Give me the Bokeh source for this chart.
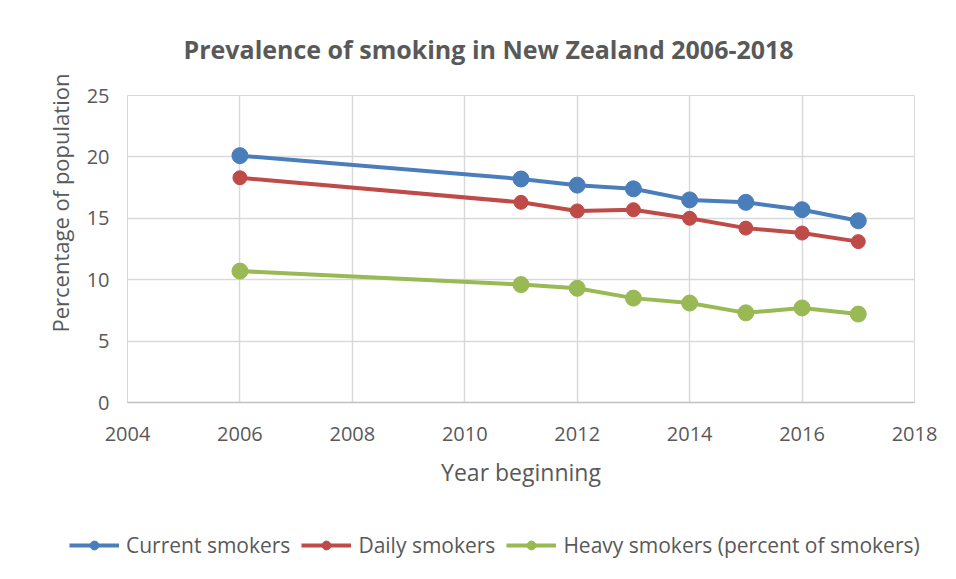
from bokeh.plotting import figure
from bokeh.layouts import column, row
from bokeh.models import Range1d, FixedTicker, Legend, LegendItem, Title
from bokeh.embed import file_html
from bokeh.resources import INLINE

years = [2006, 2011, 2012, 2013, 2014, 2015, 2016, 2017]
current = [20.1, 18.2, 17.7, 17.4, 16.5, 16.3, 15.7, 14.8]
daily = [18.3, 16.3, 15.6, 15.7, 15.0, 14.2, 13.8, 13.1]
heavy = [10.7, 9.6, 9.3, 8.5, 8.1, 7.3, 7.7, 7.2]

series_names = ["Current smokers", "Daily smokers", "Heavy smokers (percent of smokers)"]
series_colors = ["#4A7EBB", "#BE4B48", "#98B954"]
x_ticks = [2004, 2006, 2008, 2010, 2012, 2014, 2016, 2018]
y_ticks = [0, 5, 10, 15, 20, 25]

FONT = "Open Sans"
TXT = "#595959"
GRID = "#d9d9d9"
LEG_H = 60

p = figure(frame_width=787, frame_height=307, output_backend="svg", toolbar_location=None,
           x_range=Range1d(2004, 2018), y_range=Range1d(0, 25),
           min_border_left=127, min_border_right=42, min_border_top=95,
           min_border_bottom=177 - LEG_H)

p.title.text = "Prevalence of smoking in New Zealand 2006-2018"
p.title.text_font = FONT
p.title.text_font_size = "25px"
p.title.text_font_style = "bold"
p.title.text_color = TXT
p.title.align = "left"
p.title.offset = 56
p.title.standoff = 59

p.outline_line_color = GRID
p.background_fill_color = "white"
p.border_fill_color = "white"

for ax in (p.xaxis[0], p.yaxis[0]):
    ax.major_label_text_font = FONT
    ax.major_label_text_font_size = "20px"
    ax.major_label_text_color = TXT
    ax.major_tick_line_color = None
    ax.minor_tick_line_color = None
    ax.axis_label_text_font = FONT
    ax.axis_label_text_font_size = "23px"
    ax.axis_label_text_font_style = "normal"
    ax.axis_label_text_color = TXT

p.xaxis.ticker = FixedTicker(ticks=x_ticks)
p.yaxis.ticker = FixedTicker(ticks=y_ticks)
p.xaxis.axis_line_color = "#bfbfbf"
p.xaxis.axis_line_width = 1.5
p.yaxis.axis_line_color = None
p.xaxis.major_label_standoff = 18
p.yaxis.major_label_standoff = 12
p.xaxis.axis_label = "Year beginning"
p.xaxis.axis_label_standoff = 12

p.add_layout(Title(text="Percentage of population", text_font=FONT, text_font_size="22px",
                   text_font_style="normal", text_color=TXT, align="left", offset=70,
                   standoff=17), "left")

p.xgrid.grid_line_color = GRID
p.ygrid.grid_line_color = GRID
p.xgrid.grid_line_width = 1.5
p.ygrid.grid_line_width = 1.5

sizes = [16, 14, 16]
for vals, col, sz in zip([current, daily, heavy], series_colors, sizes):
    p.line(years, vals, line_color=col, line_width=4)
    p.scatter(years, vals, size=sz, fill_color=col, line_color=col)

# Legend strip below the chart (its series sit outside its visible range)
lg = figure(width=956, height=LEG_H, output_backend="svg", toolbar_location=None,
            x_range=Range1d(0, 1), y_range=Range1d(0, 1),
            x_axis_type=None, y_axis_type=None,
            min_border_left=0, min_border_right=0, min_border_top=0, min_border_bottom=0)
if "frame_align" in lg.properties():
    lg.frame_align = False
lg.outline_line_color = None
lg.xgrid.visible = False
lg.ygrid.visible = False
lg.border_fill_color = "white"
lg.title.visible = False

items = []
for vals, name, col, sz in zip([current, daily, heavy], series_names, series_colors, sizes):
    l = lg.line(years, vals, line_color=col, line_width=4)
    s = lg.scatter(years, vals, size=sz, fill_color=col, line_color=col)
    items.append(LegendItem(label=name, renderers=[l, s]))

legend = Legend(items=items, orientation="horizontal", location=(69, 20),
                label_text_font=FONT, label_text_font_size="21px", label_text_color=TXT,
                glyph_width=50, glyph_height=22, label_standoff=7, spacing=11,
                padding=0, margin=0, border_line_color=None, background_fill_alpha=0)
lg.add_layout(legend)

layout = column(p, row(lg, spacing=0), spacing=0)
open("out.html", "w").write(file_html(layout, INLINE))
